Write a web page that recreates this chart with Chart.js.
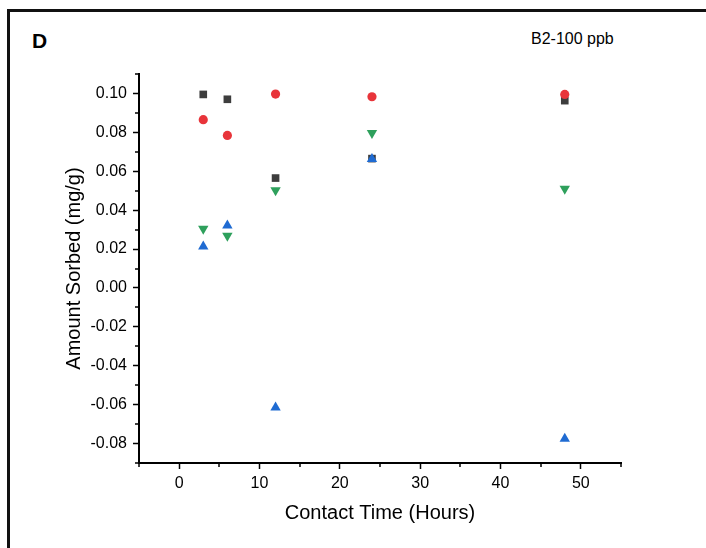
<!DOCTYPE html>
<html>
<head>
<meta charset="utf-8">
<script src="https://cdn.jsdelivr.net/npm/chart.js@4/dist/chart.umd.min.js"></script>
<style>
    html, body { margin: 0; padding: 0; background: #fff; }
    #wrap { position: relative; width: 706px; height: 548px; overflow: hidden; }
    #frame {
        position: absolute; left: 7px; top: 9px; right: -10px; bottom: -10px;
        border-top: 3px solid #111; border-left: 3px solid #111;
    }
    .lbl { position: absolute; font-family: "Liberation Sans", Arial, sans-serif; line-height: 1; color: #000; white-space: nowrap; }
    #panel { left: 32px; top: 30px; font-size: 21px; font-weight: bold; }
    #note { left: 531px; top: 31px; font-size: 16px; }
    canvas { position: absolute; left: 0; top: 0; }
</style>
</head>
<body>
<div id="wrap">
    <div id="frame"></div>
    <div class="lbl" id="panel">D</div>
    <div class="lbl" id="note">B2-100 ppb</div>
    <canvas id="sorbChart" width="706" height="548"></canvas>
</div>
<script>
// contact times (hours)
const contactTimes = [3, 6, 12, 24, 48];

// amount sorbed (mg/g) per series
const blackSeries = [0.0995, 0.0970, 0.0565, 0.0665, 0.0963];
const redSeries   = [0.0865, 0.0784, 0.0997, 0.0983, 0.0995];
const blueSeries  = [0.0213, 0.0321, -0.0615, 0.0663, -0.0775];
const greenSeries = [0.0304, 0.0268, 0.0502, 0.0797, 0.0510];

// axis ticks
const xMajor = [0, 10, 20, 30, 40, 50];
const xMinor = [-5, 5, 15, 25, 35, 45, 55];
const yMajor = [0.10, 0.08, 0.06, 0.04, 0.02, 0.00, -0.02, -0.04, -0.06, -0.08];
const yMinor = [0.11, 0.09, 0.07, 0.05, 0.03, 0.01, -0.01, -0.03, -0.05, -0.07, -0.09];

const toPoints = (ys) => contactTimes.map((t, i) => ({ x: t, y: ys[i] }));

const minorTicks = {
    id: 'minorTicks',
    afterDraw(chart) {
        const { ctx, chartArea, scales } = chart;
        ctx.save();
        ctx.strokeStyle = '#000';
        ctx.lineWidth = 1.5;
        ctx.beginPath();
        xMinor.forEach(v => {
            const px = Math.round(scales.x.getPixelForValue(v));
            ctx.moveTo(px, chartArea.bottom);
            ctx.lineTo(px, chartArea.bottom + 4);
        });
        yMinor.forEach(v => {
            const py = Math.round(scales.y.getPixelForValue(v));
            ctx.moveTo(chartArea.left, py);
            ctx.lineTo(chartArea.left - 4, py);
        });
        ctx.stroke();
        ctx.restore();
    }
};

Chart.defaults.font.family = '"Liberation Sans", Arial, sans-serif';
Chart.defaults.color = '#000';

new Chart(document.getElementById('sorbChart'), {
    type: 'scatter',
    data: {
        datasets: [
            {
                label: 'black',
                data: toPoints(blackSeries),
                pointStyle: 'rect',
                pointRadius: 5.4,
                backgroundColor: '#3d3d3d',
                borderColor: '#3d3d3d',
                borderWidth: 0,
                order: 4
            },
            {
                label: 'green',
                data: toPoints(greenSeries),
                pointStyle: 'triangle',
                rotation: 180,
                pointRadius: 6,
                backgroundColor: '#2ea05c',
                borderColor: '#2ea05c',
                borderWidth: 0,
                order: 3
            },
            {
                label: 'blue',
                data: toPoints(blueSeries),
                pointStyle: 'triangle',
                pointRadius: 6,
                backgroundColor: '#1f6bd2',
                borderColor: '#1f6bd2',
                borderWidth: 0,
                order: 2
            },
            {
                label: 'red',
                data: toPoints(redSeries),
                pointStyle: 'circle',
                pointRadius: 4.6,
                backgroundColor: '#e8343a',
                borderColor: '#e8343a',
                borderWidth: 0,
                order: 1
            }
        ]
    },
    options: {
        responsive: false,
        animation: false,
        layout: {
            padding: { left: 0, top: 74, right: 85, bottom: 0 }
        },
        plugins: {
            legend: { display: false },
            tooltip: { enabled: false }
        },
        scales: {
            x: {
                type: 'linear',
                min: -5,
                max: 55,
                afterBuildTicks: (s) => { s.ticks = xMajor.map(v => ({ value: v })); },
                afterFit: (s) => { s.height = 85; },
                grid: {
                    drawOnChartArea: false,
                    drawTicks: true,
                    tickLength: 6,
                    tickWidth: 1.5,
                    tickColor: '#000'
                },
                border: { display: true, color: '#000', width: 2 },
                ticks: {
                    padding: 5,
                    maxRotation: 0,
                    font: { size: 16 },
                    callback: (v) => String(v)
                },
                title: {
                    display: true,
                    text: 'Contact Time (Hours)',
                    font: { size: 20 },
                    padding: { top: 0, bottom: 23 }
                }
            },
            y: {
                type: 'linear',
                min: -0.09,
                max: 0.11,
                afterBuildTicks: (s) => { s.ticks = yMajor.map(v => ({ value: v })); },
                afterFit: (s) => { s.width = 139; },
                grid: {
                    drawOnChartArea: false,
                    drawTicks: true,
                    tickLength: 6,
                    tickWidth: 1.5,
                    tickColor: '#000'
                },
                border: { display: true, color: '#000', width: 2 },
                ticks: {
                    padding: 6,
                    font: { size: 16 },
                    callback: (v) => Number(v).toFixed(2)
                },
                title: {
                    display: true,
                    text: 'Amount Sorbed (mg/g)',
                    font: { size: 20 },
                    padding: { top: 62, bottom: 0 }
                }
            }
        }
    },
    plugins: [minorTicks]
});
</script>
</body>
</html>
